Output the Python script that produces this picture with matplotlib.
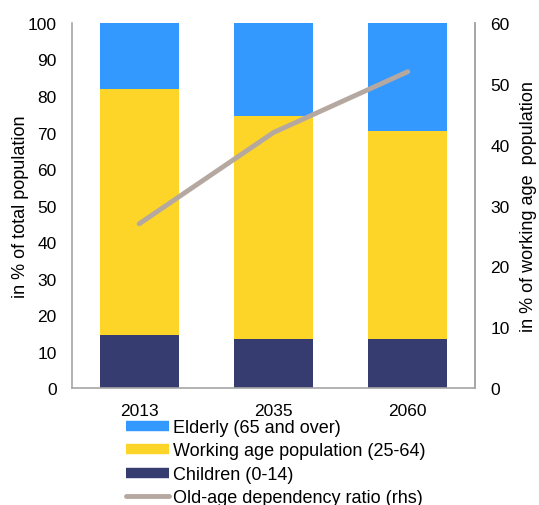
import matplotlib
matplotlib.use("Agg")
import matplotlib.pyplot as plt
from matplotlib.lines import Line2D

plt.rcParams['font.family'] = ['Liberation Sans', 'DejaVu Sans']

years = ["2013", "2035", "2060"]
children = [14.6, 13.5, 13.5]
working = [67.2, 60.9, 56.8]
elderly = [18.2, 25.6, 29.7]
dependency = [27.0, 42.0, 52.0]

c_eld = "#3399FF"
c_work = "#FDD528"
c_child = "#363B70"
c_line = "#B5A8A0"
grey = "#A6A6A6"
fs = 12.5
lfs = 13

fig = plt.figure(figsize=(5.39, 5.06), dpi=100)
ax = fig.add_axes([0.1336, 0.231, 0.7476, 0.7216])
x = list(range(len(years)))
w = 0.59
ax.bar(x, children, width=w, color=c_child)
b2 = [c for c in children]
ax.bar(x, working, width=w, bottom=b2, color=c_work)
b3 = [c + wk for c, wk in zip(children, working)]
ax.bar(x, elderly, width=w, bottom=b3, color=c_eld)
ax.set_xlim(-0.5, 2.5)
ax.set_ylim(0, 100)
ax.set_yticks(range(0, 101, 10))
ax.set_xticks(x)
ax.set_xticklabels(years)
ax.tick_params(length=0, labelsize=fs, pad=11)
ax.tick_params(axis='x', pad=11)
ax.spines['top'].set_visible(False)
for s in ['left', 'bottom', 'right']:
    ax.spines[s].set_color(grey)
    ax.spines[s].set_linewidth(1.2)
ax.set_ylabel("in % of total population", fontsize=lfs, va='center')
ax.yaxis.set_label_coords(-0.129, 0.5)

ax2 = ax.twinx()
ax2.plot(x, dependency, color=c_line, lw=3.5, solid_capstyle='round')
ax2.set_ylim(0, 60)
ax2.set_yticks(range(0, 61, 10))
ax2.tick_params(length=0, labelsize=fs, pad=11)
ax2.spines['top'].set_visible(False)
ax2.spines['right'].set_color(grey)
ax2.spines['right'].set_linewidth(1.2)
ax2.spines['left'].set_visible(False)
ax2.spines['bottom'].set_visible(False)
ax2.set_ylabel("in % of working age  population", fontsize=lfs, va='center')
ax2.yaxis.set_label_coords(1.134, 0.5)

handles = [
    Line2D([0], [0], color=c_eld, lw=7.5, solid_capstyle='butt'),
    Line2D([0], [0], color=c_work, lw=7.5, solid_capstyle='butt'),
    Line2D([0], [0], color=c_child, lw=7.5, solid_capstyle='butt'),
    Line2D([0], [0], color=c_line, lw=3.5, solid_capstyle='round'),
]
labels = ["Elderly (65 and over)", "Working age population (25-64)",
          "Children (0-14)", "Old-age dependency ratio (rhs)"]
fig.legend(handles, labels, loc='upper left', bbox_to_anchor=(0.234, 0.170),
           frameon=False, fontsize=lfs, handlelength=2.4, handletextpad=0.22,
           labelspacing=0.36, borderpad=0, borderaxespad=0)

fig.savefig("out.png", dpi=100)
